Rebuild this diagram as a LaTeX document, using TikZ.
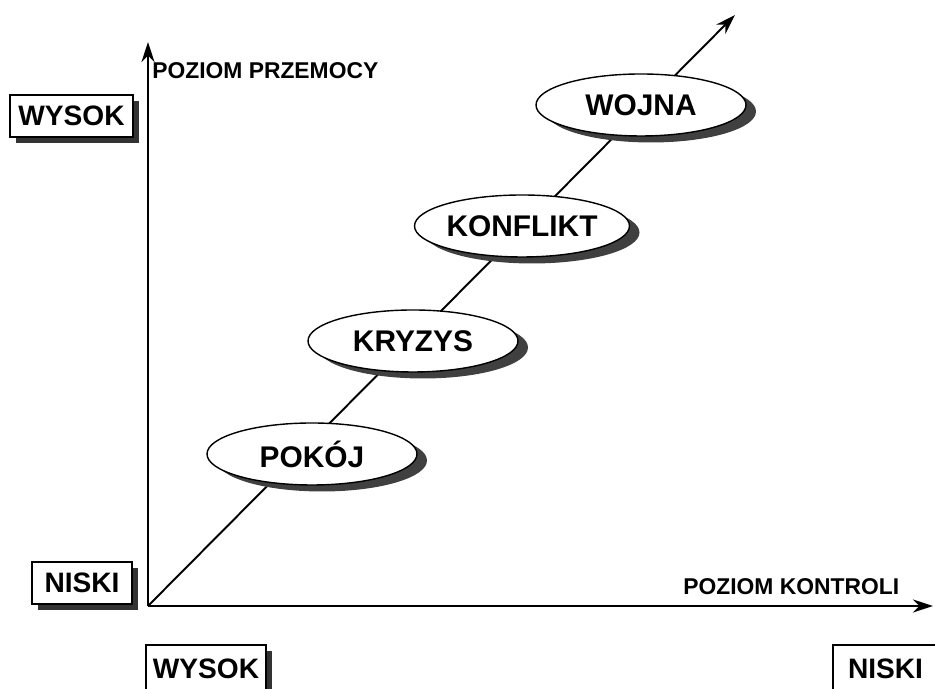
\documentclass[tikz,border=0pt]{standalone}
\usepackage{fontspec}
\setmainfont{Liberation Sans}
\usetikzlibrary{arrows.meta,shapes.geometric,shadows}

\tikzset{
	etap/.style={ellipse, draw, line width=0.8pt, fill=white,
		minimum width=4.2cm, minimum height=1.24cm, inner sep=0pt,
		font=\fontsize{17}{20}\selectfont\bfseries,
		drop shadow={shadow xshift=0.2cm, shadow yshift=-0.13cm, fill=black!75, opacity=1}},
	poziom/.style={rectangle, draw, line width=0.6pt, fill=white,
		minimum height=0.84cm, inner sep=0pt,
		font=\fontsize{16}{19}\selectfont\bfseries,
		drop shadow={shadow xshift=0.12cm, shadow yshift=-0.12cm, fill=black!80, opacity=1}},
	os/.style={line width=1.1pt, -{Stealth[length=4mm,width=2.6mm]}},
	opis/.style={anchor=west, inner sep=0pt, font=\fontsize{13}{15}\selectfont\bfseries}
}

\begin{document}
\begin{tikzpicture}
	\useasboundingbox (0,0) rectangle (18.7,13.78);
	\coordinate (O) at (2.96,1.66);
	\coordinate (Y) at (2.96,12.94);
	\coordinate (X) at (18.66,1.66);
	\coordinate (D) at (14.7,13.48);
	% osie i przekatna
	\draw[os] (O) -- (Y);
	\draw[os] (O) -- (X);
	\draw[os] (O) -- (D);
	\node[opis] (przemoc) at (3.04,12.37) {POZIOM PRZEMOCY};
	\node[opis] (kontrola) at (13.66,2.04) {POZIOM KONTROLI};
	% etapy na przekatnej
	\node[etap] (pokoj) at (6.24,4.70) {POKÓJ};
	\node[etap] (kryzys) at (8.26,6.96) {KRYZYS};
	\node[etap, minimum width=4.3cm] (konflikt) at (10.44,9.26) {KONFLIKT};
	\node[etap] (wojna) at (12.82,11.68) {WOJNA};
	% skale
	\node[poziom, minimum width=2.46cm] (wyY) at (1.43,11.46) {WYSOK};
	\node[poziom, minimum width=2.0cm] (niY) at (1.64,2.12) {NISKI};
	\node[poziom, minimum width=2.4cm, minimum height=0.96cm] (wyX) at (4.12,0.40) {WYSOK};
	\node[poziom, minimum width=2.1cm, minimum height=0.96cm] (niX) at (17.71,0.40) {NISKI};
\end{tikzpicture}
\end{document}
